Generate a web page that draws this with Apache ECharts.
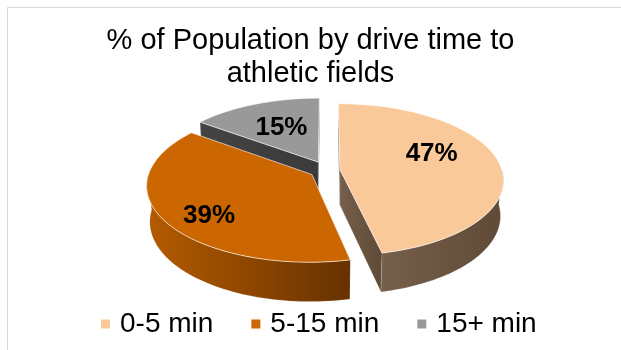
<!DOCTYPE html>
<html>
<head>
<meta charset="utf-8">
<script src="https://cdn.jsdelivr.net/npm/echarts@6/dist/echarts.min.js"></script>
<style>
  html, body { margin: 0; padding: 0; background: #fff; }
  #chart { width: 621px; height: 350px; }
</style>
</head>
<body>
<div id="chart"></div>
<script>
// 图表数据
var categories = ['0-5 min', '5-15 min', '15+ min'];
var values = [47, 39, 15];
var topColors = ['#F9C99A', '#CC6600', '#999999'];
var wallColors = [['#76604B', '#5F4A37'], ['#B55B00', '#663100'], ['#444444', '#3A3A3A']];
var explode = [0.08, 0.11, 0.12];
// 标签微调（像素）
var labelNudge = [[-7, -11], [-13, 15], [4, 3]];

var FONT = '"Liberation Sans", Arial, sans-serif';

// 简单透视投影，模拟三维饼图
var CX = 327, CY = 170, F = 1070, D = 6.6, H = 0.25;
var ELEV = 27.4 * Math.PI / 180;

function project(x, y, z) {
  var yc = y * Math.sin(ELEV) + z * Math.cos(ELEV);
  var zc = D + y * Math.cos(ELEV) - z * Math.sin(ELEV);
  return [CX + F * x / zc, CY - F * yc / zc];
}

// 按数值计算每块的起止角度（顺时针，从正上方开始）
var total = values.reduce(function (s, v) { return s + v; }, 0);
var slices = [];
var acc = 0;
values.forEach(function (v, i) {
  var a = acc / total * Math.PI * 2;
  acc += v;
  var b = acc / total * Math.PI * 2;
  var mid = (a + b) / 2;
  slices.push({ a: a, b: b, mid: mid, dx: explode[i] * Math.sin(mid), dy: explode[i] * Math.cos(mid) });
});

function arc(s, t1, t2, z) {
  var pts = [];
  var n = Math.max(2, Math.ceil(Math.abs(t2 - t1) / 0.03));
  for (var k = 0; k <= n; k++) {
    var t = t1 + (t2 - t1) * k / n;
    pts.push(project(s.dx + Math.sin(t), s.dy + Math.cos(t), z));
  }
  return pts;
}

function grad(c) {
  return { type: 'linear', x: 0, y: 0, x2: 1, y2: 0,
    colorStops: [{ offset: 0, color: c[0] }, { offset: 1, color: c[1] }] };
}

function cutFace(s, t, fill) {
  return {
    type: 'polygon',
    shape: { points: [
      project(s.dx, s.dy, 0),
      project(s.dx + Math.sin(t), s.dy + Math.cos(t), 0),
      project(s.dx + Math.sin(t), s.dy + Math.cos(t), -H),
      project(s.dx, s.dy, -H)
    ] },
    style: { fill: fill, stroke: 'rgba(255,255,255,0.35)', lineWidth: 0.6 }
  };
}

function wallShapes(i) {
  var s = slices[i], out = [];
  var cy = -D * Math.cos(ELEV) - s.dy, cx = -s.dx;
  // 起始切面
  if (cx * (-Math.cos(s.a)) + cy * Math.sin(s.a) > 0) out.push(cutFace(s, s.a, grad(wallColors[i])));
  // 结束切面
  if (cx * Math.cos(s.b) + cy * (-Math.sin(s.b)) > 0) out.push(cutFace(s, s.b, grad(wallColors[i])));
  // 外侧弧面
  var t1 = Math.max(s.a, Math.PI / 2), t2 = Math.min(s.b, Math.PI * 1.5);
  if (t1 < t2) {
    var pts = arc(s, t1, t2, 0).concat(arc(s, t2, t1, -H));
    out.push({ type: 'polygon', shape: { points: pts },
      style: { fill: grad(wallColors[i]), stroke: 'rgba(255,255,255,0.25)', lineWidth: 0.6 } });
  }
  return out;
}

function topShapes(i) {
  var s = slices[i];
  var pts = [project(s.dx, s.dy, 0)].concat(arc(s, s.a, s.b, 0));
  var lp = project(s.dx + 0.62 * Math.sin(s.mid), s.dy + 0.62 * Math.cos(s.mid), 0);
  return [
    { type: 'polygon', shape: { points: pts },
      style: { fill: topColors[i], stroke: 'rgba(255,255,255,0.6)', lineWidth: 1 } },
    { type: 'text', x: lp[0] + labelNudge[i][0], y: lp[1] + labelNudge[i][1],
      style: { text: values[i] + '%', fill: '#000', fontSize: 26, fontWeight: 'bold',
        fontFamily: FONT, align: 'center', verticalAlign: 'middle' } }
  ];
}

var seriesList = [{
  type: 'custom', name: 'walls', coordinateSystem: 'none', silent: true, z: 2,
  data: [[2], [0], [1]],
  renderItem: function (params, api) {
    return { type: 'group', children: wallShapes(api.value(0)) };
  }
}];
categories.forEach(function (name, i) {
  seriesList.push({
    type: 'custom', name: name, coordinateSystem: 'none', z: 3,
    itemStyle: { color: topColors[i] },
    data: [[i]],
    renderItem: function (params, api) {
      return { type: 'group', children: topShapes(api.value(0)) };
    }
  });
});

var chart = echarts.init(document.getElementById('chart'));
chart.setOption({
  animation: false,
  backgroundColor: '#fff',
  title: {
    text: '% of Population by drive time to\nathletic fields',
    left: 'center', top: 19,
    textStyle: { fontFamily: FONT, fontSize: 29, fontWeight: 'normal', color: '#000', lineHeight: 33 }
  },
  legend: {
    data: categories, left: 96, top: 305,
    icon: 'rect', itemWidth: 9, itemHeight: 9, itemGap: 38,
    textStyle: { fontFamily: FONT, fontSize: 28, color: '#000', padding: [0, 0, 0, 5] }
  },
  graphic: [{
    type: 'rect', silent: true,
    shape: { x: 7.5, y: 7.5, width: 700, height: 400 },
    style: { fill: 'none', stroke: '#D9D9D9', lineWidth: 1 }
  }],
  series: seriesList
});
</script>
</body>
</html>
